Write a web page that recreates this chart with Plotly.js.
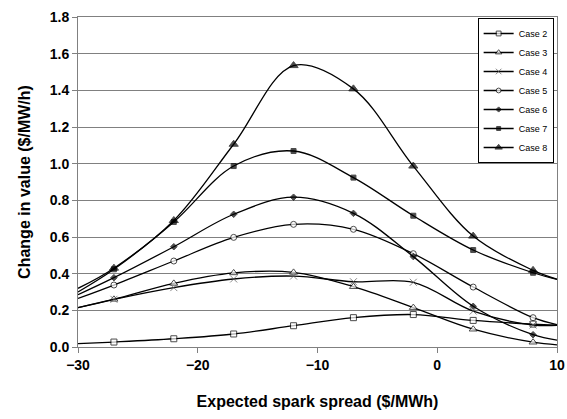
<!DOCTYPE html>
<html>
<head>
<meta charset="utf-8">
<script src="https://cdn.plot.ly/plotly-3.0.1.min.js"></script>
<style>html,body{margin:0;padding:0;background:#fff;}#chart{width:567px;height:419px;}</style>
</head>
<body>
<div id="chart"></div>
<script>
const spread = [-30, -27, -22, -17, -12, -7, -2, 3, 8, 10];
const case2 = [0.018, 0.027, 0.045, 0.071, 0.116, 0.160, 0.177, 0.145, 0.125, 0.120];
const case3 = [0.215, 0.260, 0.347, 0.404, 0.407, 0.329, 0.215, 0.097, 0.026, 0.012];
const case4 = [0.215, 0.260, 0.324, 0.371, 0.387, 0.356, 0.353, 0.196, 0.120, 0.118];
const case5 = [0.265, 0.338, 0.469, 0.598, 0.669, 0.642, 0.509, 0.327, 0.160, 0.122];
const case6 = [0.285, 0.378, 0.547, 0.724, 0.817, 0.729, 0.493, 0.222, 0.067, 0.037];
const case7 = [0.300, 0.424, 0.682, 0.987, 1.069, 0.924, 0.716, 0.529, 0.405, 0.369];
const case8 = [0.320, 0.430, 0.690, 1.106, 1.535, 1.408, 0.987, 0.605, 0.418, 0.370];
const names = ['Case 2', 'Case 3', 'Case 4', 'Case 5', 'Case 6', 'Case 7', 'Case 8'];
const series = [case2, case3, case4, case5, case6, case7, case8];

const styles = [
  {symbol: 'square', color: '#ffffff', size: 6},
  {symbol: 'triangle-up', color: '#ffffff', size: 7},
  {symbol: 'x-thin-open', color: '#555555', size: 7},
  {symbol: 'circle', color: '#ffffff', size: 6},
  {symbol: 'diamond', color: '#000000', size: 5},
  {symbol: 'square', color: '#000000', size: 5},
  {symbol: 'triangle-up', color: '#000000', size: 8}
];

const traces = series.map((ys, i) => {
  const st = styles[i];
  const sizes = spread.map((x, j) => (j === 0 || j === spread.length - 1) ? 0 : st.size);
  return {
    x: spread, y: ys, name: names[i], type: 'scatter', mode: 'lines+markers',
    line: {color: '#000000', width: 1.3, shape: 'spline', smoothing: 1},
    marker: {symbol: st.symbol, size: sizes, color: st.color,
             line: {color: st.symbol === 'x-thin-open' ? '#555555' : '#000000', width: 1}}
  };
});

const layout = {
  width: 567, height: 419,
  margin: {l: 78, r: 10, t: 17, b: 72},
  paper_bgcolor: '#ffffff', plot_bgcolor: '#ffffff',
  font: {family: 'Liberation Sans, Arial, sans-serif', color: '#000000'},
  showlegend: true,
  legend: {
    x: 0.993, xanchor: 'right', y: 0.997, yanchor: 'top',
    bgcolor: '#ffffff', bordercolor: '#000000', borderwidth: 1,
    font: {size: 9, family: 'Liberation Sans, Arial, sans-serif'},
    itemwidth: 30, tracegroupgap: 0
  },
  xaxis: {
    range: [-30, 10], dtick: 10, tick0: -30,
    showgrid: false, zeroline: false,
    showline: true, linecolor: '#808080', linewidth: 1, mirror: true,
    ticks: 'outside', ticklen: 5, tickcolor: '#808080',
    tickfont: {size: 14, weight: 'bold'},
    title: {text: 'Expected spark spread ($/MWh)', font: {size: 16, weight: 'bold'}, standoff: 24}
  },
  yaxis: {
    range: [0, 1.8], dtick: 0.2, tick0: 0, tickformat: '.1f',
    showgrid: true, gridcolor: '#808080', gridwidth: 1, zeroline: false,
    showline: true, linecolor: '#808080', linewidth: 1, mirror: true,
    ticks: 'outside', ticklen: 5, tickcolor: '#808080',
    tickfont: {size: 14, weight: 'bold'},
    title: {text: 'Change in value ($/MW/h)', font: {size: 16, weight: 'bold'}, standoff: 15}
  }
};

Plotly.newPlot('chart', traces, layout, {displayModeBar: false, staticPlot: true});
</script>
</body>
</html>
